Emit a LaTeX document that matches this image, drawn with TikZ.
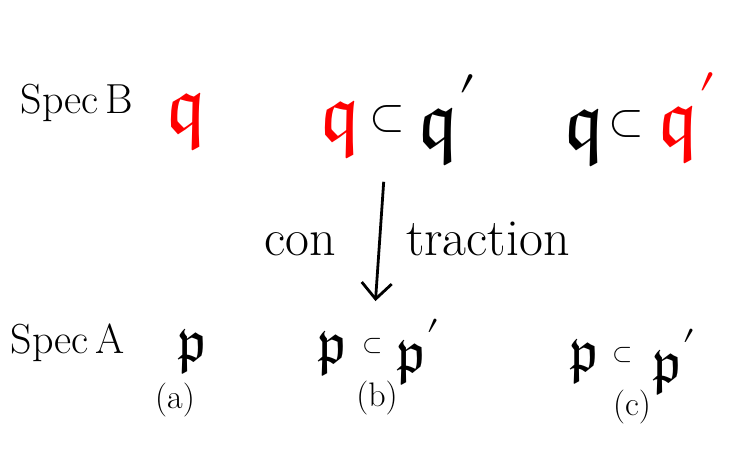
\documentclass[tikz,border=0pt]{standalone}
\usepackage{unicode-math}
\setmathfont{Latin Modern Math}
\usetikzlibrary{arrows.meta,positioning}

\begin{document}
\begin{tikzpicture}[>={Straight Barb[length=16pt,width=30pt]}, x=1pt, y=-1pt, line width=2.8pt] % Styles
\tikzstyle{spec}=[inner sep=0pt, anchor=base, font=\fontsize{42}{46}\selectfont]
\tikzstyle{word}=[inner sep=0pt, anchor=base, font=\fontsize{52}{56}\selectfont]
\tikzstyle{ideal}=[inner sep=0pt, font=\fontsize{82}{86}\selectfont]
\tikzstyle{idealA}=[inner sep=0pt, font=\fontsize{60}{64}\selectfont]
\tikzstyle{incl}=[inner sep=0pt, font=\fontsize{46}{50}\selectfont]
\tikzstyle{inclA}=[inner sep=0pt, font=\fontsize{26}{30}\selectfont]
\tikzstyle{case}=[inner sep=0pt, font=\fontsize{34}{38}\selectfont]
\tikzstyle{hot}=[text=red]
\fill[white] (0,0) rectangle (752,450);
\useasboundingbox (0,0) rectangle (752,450); % Spec B row
\node[spec] (specB) at (77,113) {Spec$\,$B};
\node[ideal, hot] (qa) at (187,122) {$\mathfrak{q}$};
\node[ideal, hot] (qb) at (341,130) {$\mathfrak{q}$};
\node[incl] (subB) at (387,119) {$\subset$};
\node[ideal] (qb') at (448,137) {$\mathfrak{q}^{\smash{\prime}}$};
\node[ideal] (qc) at (585,138) {$\mathfrak{q}$};
\node[incl] (subC) at (626,124) {$\subset$};
\node[ideal, hot] (qc') at (688,135) {$\mathfrak{q}^{\smash{\prime}}$}; % Spec A row
\node[spec] (specA) at (68,353) {Spec$\,$A};
\node[idealA] (pa) at (192,352) {$\mathfrak{p}$};
\node[idealA] (pb) at (332,354) {$\mathfrak{p}$};
\node[inclA] (subA) at (373,346) {$\subset$};
\node[idealA] (pb') at (418,352) {$\mathfrak{p}'$};
\node[idealA] (pc) at (584,362) {$\mathfrak{p}$};
\node[inclA] (subD) at (623,355) {$\subset$};
\node[idealA] (pc') at (674,362) {$\mathfrak{p}'$}; % Cases
\node[case] (casea) at (175,400) {(a)};
\node[case] (caseb) at (377,398) {(b)};
\node[case] (casec) at (632,407) {(c)}; % Contraction
\draw[->, shorten <=48pt, shorten >=36pt] (subB.south) -- (subA.north);
\node[word] (con) at (300,255) {con};
\node[word] (traction) at (488,255) {traction};
\end{tikzpicture}
\end{document}
